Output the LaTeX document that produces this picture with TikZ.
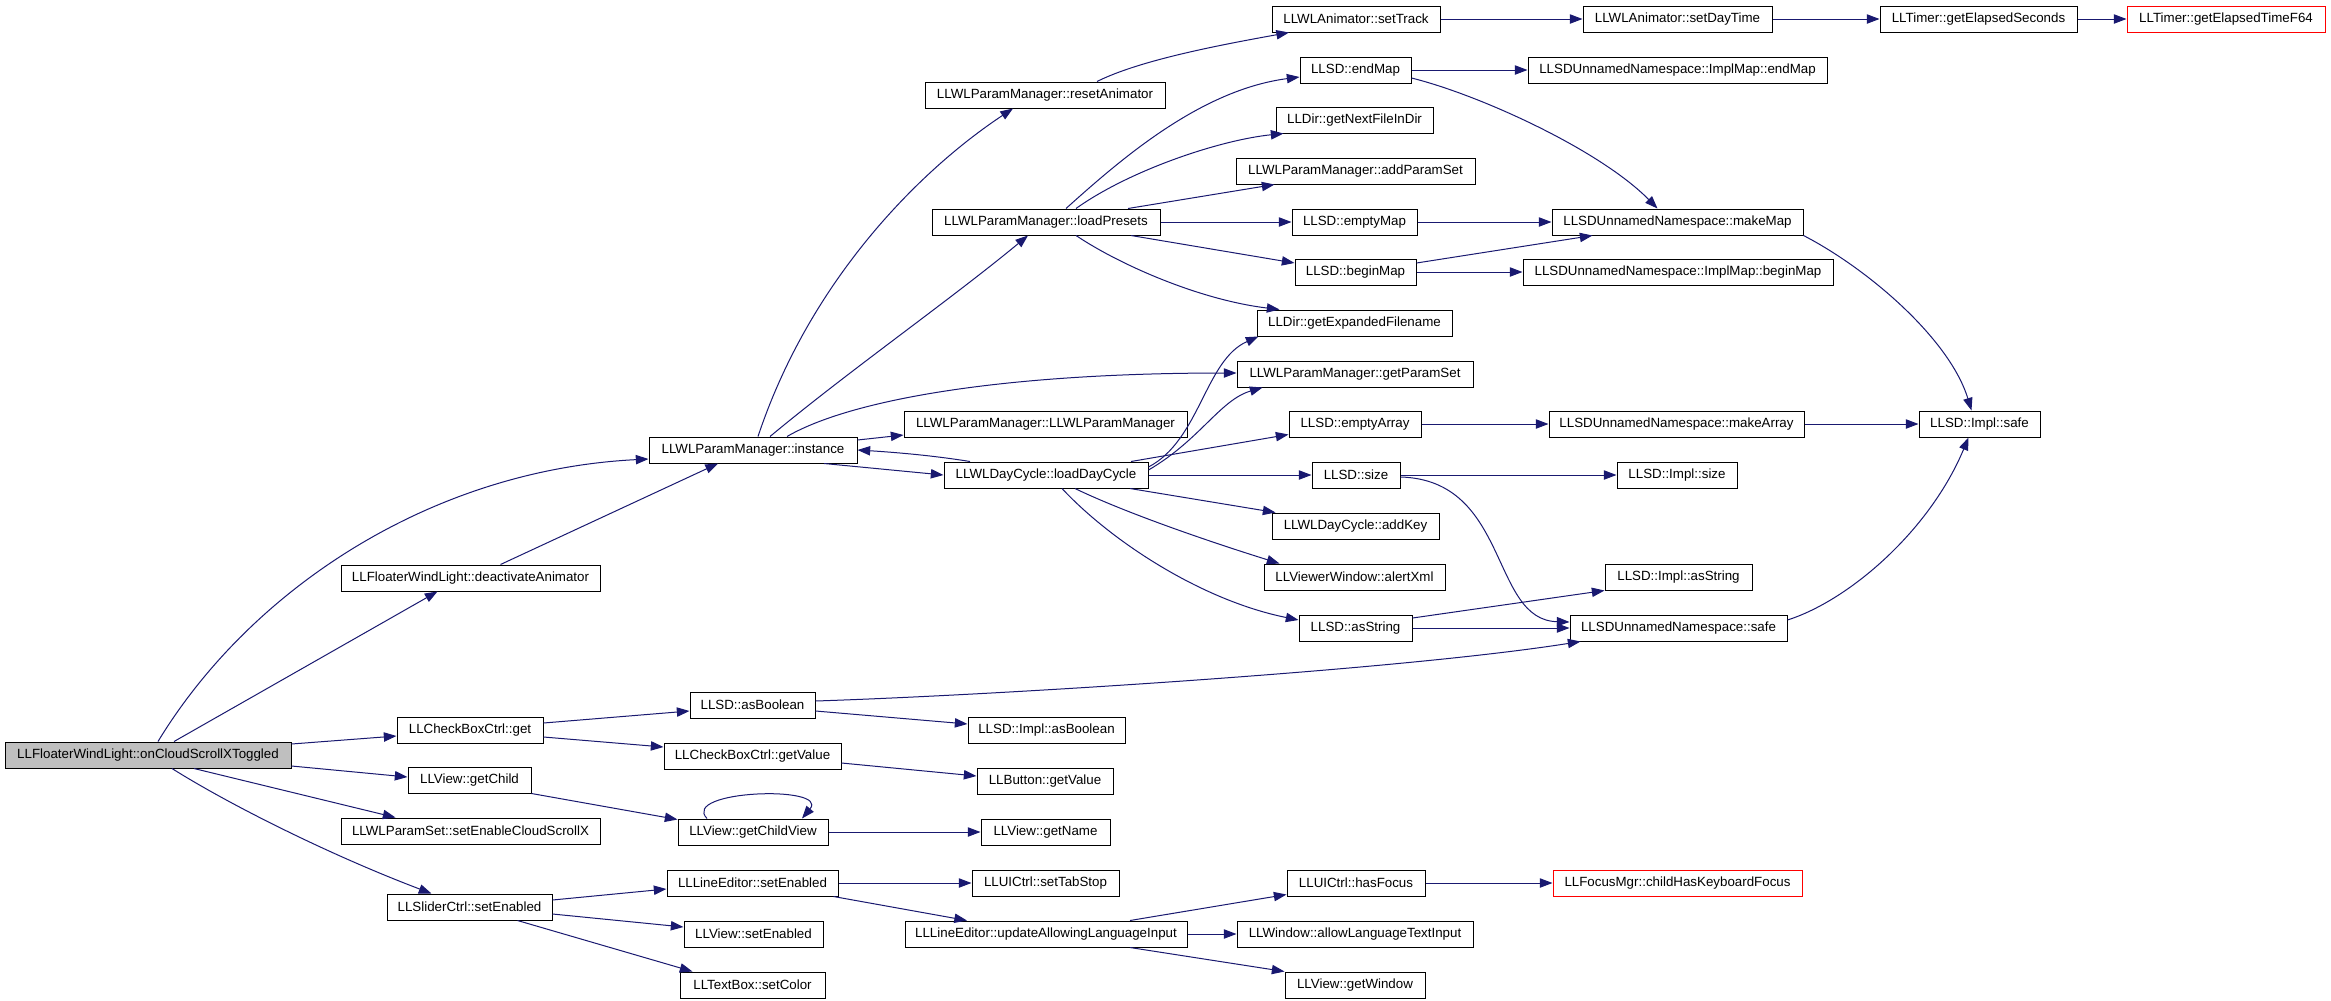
\documentclass[tikz,border=0pt]{standalone}
\usepackage{fontspec}
\setmainfont{Liberation Sans}
\usetikzlibrary{arrows.meta,calc}
\definecolor{edgeblue}{HTML}{191970}
\definecolor{rootgray}{HTML}{BFBFBF}
\tikzset{
  box/.style={draw=black, line width=0.75pt, fill=white, inner sep=0pt,
    minimum height=19.5pt, font=\fontsize{10}{12}\selectfont, text=black},
  rootbox/.style={fill=rootgray},
  redbox/.style={draw=red},
  edge/.style={draw=edgeblue, line width=0.75pt,
    -{Triangle[length=9.5pt,width=7pt]}, shorten >=0pt}
}
\newcommand{\gnd}[6]{\node[box,#5,minimum width={(#3-#2)*0.75pt}] (#1) at ({(#2+#3)/2},#4) {#6};}
\begin{document}
\begin{tikzpicture}[x=0.75pt,y=-0.75pt]
\useasboundingbox[fill=white] (0,0) rectangle (2331,1000);
% nodes
\gnd{n0}{5}{291}{755}{rootbox}{LLFloaterWindLight::onCloudScrollXToggled}
\gnd{n1}{341}{600}{578}{}{LLFloaterWindLight::deactivateAnimator}
\gnd{n2}{649}{857}{450}{}{LLWLParamManager::instance}
\gnd{n3}{925}{1165}{95}{}{LLWLParamManager::resetAnimator}
\gnd{n4}{932}{1160}{222}{}{LLWLParamManager::loadPresets}
\gnd{n5}{904}{1187}{424}{}{LLWLParamManager::LLWLParamManager}
\gnd{n6}{944}{1148}{475}{}{LLWLDayCycle::loadDayCycle}
\gnd{n7}{1272}{1440}{19}{}{LLWLAnimator::setTrack}
\gnd{n8}{1300}{1411}{70}{}{LLSD::endMap}
\gnd{n9}{1276}{1433}{120}{}{LLDir::getNextFileInDir}
\gnd{n10}{1236}{1475}{171}{}{LLWLParamManager::addParamSet}
\gnd{n11}{1292}{1417}{222}{}{LLSD::emptyMap}
\gnd{n12}{1295}{1416}{272}{}{LLSD::beginMap}
\gnd{n13}{1257}{1452}{323}{}{LLDir::getExpandedFilename}
\gnd{n14}{1237}{1473}{374}{}{LLWLParamManager::getParamSet}
\gnd{n15}{1289}{1421}{424}{}{LLSD::emptyArray}
\gnd{n16}{1312}{1400}{475}{}{LLSD::size}
\gnd{n17}{1272}{1439}{526}{}{LLWLDayCycle::addKey}
\gnd{n18}{1264}{1445}{577}{}{LLViewerWindow::alertXml}
\gnd{n19}{1299}{1412}{628}{}{LLSD::asString}
\gnd{n20}{1583}{1772}{19}{}{LLWLAnimator::setDayTime}
\gnd{n21}{1880}{2077}{19}{}{LLTimer::getElapsedSeconds}
\gnd{n22}{2127}{2325}{19}{redbox}{LLTimer::getElapsedTimeF64}
\gnd{n23}{1528}{1827}{70}{}{LLSDUnnamedNamespace::ImplMap::endMap}
\gnd{n24}{1552}{1803}{222}{}{LLSDUnnamedNamespace::makeMap}
\gnd{n25}{1523}{1833}{272}{}{LLSDUnnamedNamespace::ImplMap::beginMap}
\gnd{n26}{1549}{1804}{424}{}{LLSDUnnamedNamespace::makeArray}
\gnd{n27}{1919}{2040}{424}{}{LLSD::Impl::safe}
\gnd{n28}{1617}{1737}{475}{}{LLSD::Impl::size}
\gnd{n29}{1605}{1752}{577}{}{LLSD::Impl::asString}
\gnd{n30}{1570}{1787}{628}{}{LLSDUnnamedNamespace::safe}
\gnd{n31}{397}{543}{730}{}{LLCheckBoxCtrl::get}
\gnd{n32}{408}{531}{780}{}{LLView::getChild}
\gnd{n33}{341}{600}{831}{}{LLWLParamSet::setEnableCloudScrollX}
\gnd{n34}{387}{552}{907}{}{LLSliderCtrl::setEnabled}
\gnd{n35}{690}{815}{705}{}{LLSD::asBoolean}
\gnd{n36}{664}{841}{756}{}{LLCheckBoxCtrl::getValue}
\gnd{n37}{678}{828}{832}{}{LLView::getChildView}
\gnd{n38}{667}{838}{883}{}{LLLineEditor::setEnabled}
\gnd{n39}{684}{823}{934}{}{LLView::setEnabled}
\gnd{n40}{680}{825}{985}{}{LLTextBox::setColor}
\gnd{n41}{968}{1125}{730}{}{LLSD::Impl::asBoolean}
\gnd{n42}{977}{1113}{781}{}{LLButton::getValue}
\gnd{n43}{981}{1110}{832}{}{LLView::getName}
\gnd{n44}{972}{1119}{883}{}{LLUICtrl::setTabStop}
\gnd{n45}{905}{1187}{934}{}{LLLineEditor::updateAllowingLanguageInput}
\gnd{n46}{1287}{1425}{883}{}{LLUICtrl::hasFocus}
\gnd{n47}{1237}{1473}{934}{}{LLWindow::allowLanguageTextInput}
\gnd{n48}{1285}{1425}{985}{}{LLView::getWindow}
\gnd{n49}{1553}{1802}{883}{redbox}{LLFocusMgr::childHasKeyboardFocus}
% edges
\draw[edge] ($(n0.north)+(10,0)$) .. controls (250,590) and (430,470) .. ($(n2.west)+(0,9)$);
\draw[edge] ($(n0.north)+(26,0)$) -- ($(n1.south)+(-33,0)$);
\draw[edge] ($(n1.north)+(30,0)$) -- ($(n2.south)+(-35,0)$);
\draw[edge] ($(n0.east)+(0,-11)$) -- ($(n31.west)+(0,6)$);
\draw[edge] ($(n0.east)+(0,11)$) -- ($(n32.west)+(0,-3)$);
\draw[edge] ($(n0.south)+(46,0)$) -- ($(n33.north)+(-75,0)$);
\draw[edge] ($(n0.south)+(24,0)$) .. controls (230,805) and (330,855) .. ($(n34.north)+(-38,0)$);
\draw[edge] ($(n2.north)+(5,0)$) .. controls (810,280) and (920,170) .. ($(n3.south)+(-32,0)$);
\draw[edge] ($(n2.north)+(17,0)$) .. controls (850,370) and (950,300) .. ($(n4.south)+(-18,0)$);
\draw[edge] ($(n2.north)+(34,0)$) .. controls (850,400) and (1000,373) .. ($(n14.west)+(0,-1)$);
\draw[edge] ($(n2.east)+(0,-10)$) -- ($(n5.west)+(0,11)$);
\draw[edge] ($(n2.south)+(71,0)$) -- (n6.west);
\draw[edge] ($(n6.north)+(-76,0)$) .. controls (930,455) and (890,452) .. (n2.east);
\draw[edge] ($(n3.north)+(52,0)$) .. controls (1140,60) and (1220,45) .. ($(n7.south)+(-67,0)$);
\draw[edge] (n7.east) -- (n20.west);
\draw[edge] (n20.east) -- (n21.west);
\draw[edge] (n21.east) -- (n22.west);
\draw[edge] ($(n4.north)+(20,0)$) .. controls (1120,160) and (1200,90) .. ($(n8.west)+(0,7)$);
\draw[edge] ($(n4.north)+(30,0)$) .. controls (1130,170) and (1220,140) .. ($(n9.south)+(-71,0)$);
\draw[edge] ($(n4.north)+(82,0)$) -- ($(n10.south)+(-81,0)$);
\draw[edge] (n4.east) -- (n11.west);
\draw[edge] ($(n4.south)+(85,0)$) -- ($(n12.west)+(0,-9)$);
\draw[edge] ($(n4.south)+(30,0)$) .. controls (1120,265) and (1200,300) .. ($(n13.north)+(-75,0)$);
\draw[edge] ($(n6.east)+(0,-8)$) .. controls (1200,440) and (1205,360) .. ($(n13.south west)+(2,0)$);
\draw[edge] ($(n6.east)+(0,-5)$) .. controls (1200,440) and (1220,400) .. ($(n14.south west)+(26,0)$);
\draw[edge] ($(n6.north)+(85,0)$) -- ($(n15.south west)+(0,-3)$);
\draw[edge] (n6.east) -- (n16.west);
\draw[edge] ($(n6.south)+(84,0)$) -- ($(n17.north)+(-80,0)$);
\draw[edge] ($(n6.south)+(29,0)$) .. controls (1130,515) and (1220,545) .. ($(n18.north)+(-75,0)$);
\draw[edge] ($(n6.south)+(16,0)$) .. controls (1110,540) and (1200,600) .. ($(n19.west)+(0,-8)$);
\draw[edge] (n8.east) -- (n23.west);
\draw[edge] ($(n8.east)+(0,8)$) .. controls (1480,95) and (1600,150) .. ($(n24.north)+(-20,0)$);
\draw[edge] (n11.east) -- (n24.west);
\draw[edge] ($(n12.east)+(0,-9)$) -- ($(n24.south)+(-85,0)$);
\draw[edge] (n12.east) -- (n25.west);
\draw[edge] (n24.south east) .. controls (1870,270) and (1950,340) .. ($(n27.north)+(-8,0)$);
\draw[edge] (n15.east) -- (n26.west);
\draw[edge] (n26.east) -- (n27.west);
\draw[edge] (n16.east) -- (n28.west);
\draw[edge] ($(n16.east)+(0,2)$) .. controls (1510,480) and (1490,620) .. ($(n30.west)+(0,-6)$);
\draw[edge] ($(n19.east)+(0,-10)$) -- (n29.south west);
\draw[edge] (n19.east) -- (n30.west);
\draw[edge] ($(n30.east)+(0,-8)$) .. controls (1850,600) and (1930,530) .. ($(n27.south)+(-11,0)$);
\draw[edge] ($(n31.east)+(0,-7)$) -- ($(n35.west)+(0,6)$);
\draw[edge] ($(n31.east)+(0,7)$) -- ($(n36.west)+(0,-9)$);
\draw[edge] ($(n35.east)+(0,-4)$) .. controls (1000,695) and (1400,670) .. ($(n30.south west)+(11,0)$);
\draw[edge] ($(n35.east)+(0,6)$) -- ($(n41.west)+(0,-6)$);
\draw[edge] ($(n36.east)+(0,7)$) -- ($(n42.west)+(0,-5)$);
\draw[edge] (n32.south east) -- ($(n37.north west)+(0,1)$);
\draw[edge] ($(n37.north)+(-46,0)$) .. controls (680,790) and (830,785) .. ($(n37.north)+(49,0)$);
\draw[edge] (n37.east) -- (n43.west);
\draw[edge] ($(n34.east)+(0,-7)$) -- ($(n38.west)+(0,6)$);
\draw[edge] ($(n34.east)+(0,7)$) -- ($(n39.west)+(0,-7)$);
\draw[edge] ($(n34.south)+(48,0)$) -- ($(n40.north)+(-60,0)$);
\draw[edge] (n38.east) -- (n44.west);
\draw[edge] ($(n38.south)+(81,0)$) -- ($(n45.north)+(-79,0)$);
\draw[edge] ($(n45.north)+(84,0)$) -- ($(n46.south west)+(0,-2)$);
\draw[edge] (n45.east) -- (n47.west);
\draw[edge] ($(n45.south)+(84,0)$) -- (n48.north west);
\draw[edge] (n46.east) -- (n49.west);
\end{tikzpicture}
\end{document}
